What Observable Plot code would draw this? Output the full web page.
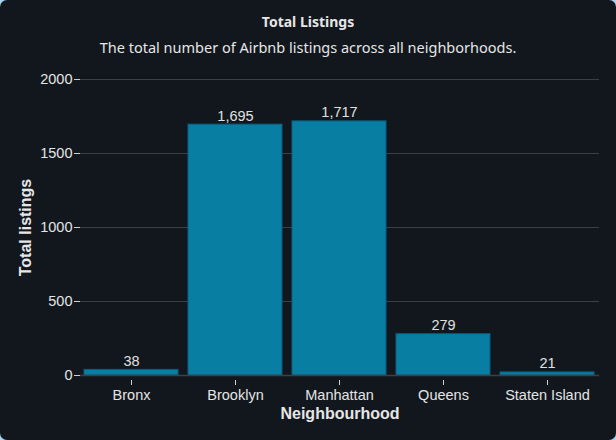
<!DOCTYPE html>
<html>
<head>
<meta charset="utf-8">
<script src="https://cdn.jsdelivr.net/npm/d3@7"></script>
<script src="https://cdn.jsdelivr.net/npm/@observablehq/plot@0.6"></script>
<style>
  html, body { margin: 0; padding: 0; background: #a8d4f2; }
  #card {
    position: relative; width: 616px; height: 440px; overflow: hidden;
    background: #12171e; border-radius: 7px;
  }
  #title {
    position: absolute; top: 12px; left: 0; width: 616px; text-align: center;
    font-family: "Noto Sans", sans-serif; font-weight: 700; font-size: 14px; color: #e6e6e6;
  }
  #subtitle {
    position: absolute; top: 37px; left: 0; width: 616px; text-align: center;
    font-family: "Noto Sans", sans-serif; font-size: 14.5px; color: #e6e6e6;
  }
  #chart { position: absolute; top: 60px; left: 0; }
  #chart svg, #chart svg text { font-family: "Liberation Sans", Arial, sans-serif !important; }
</style>
</head>
<body>
<div id="card">
  <div id="title">Total Listings</div>
  <div id="subtitle">The total number of Airbnb listings across all neighborhoods.</div>
  <div id="chart"></div>
</div>
<script>
const neighbourhoods = ["Bronx", "Brooklyn", "Manhattan", "Queens", "Staten Island"];
const listings = [38, 1695, 1717, 279, 21];
const yTicks = [0, 500, 1000, 1500, 2000];

const data = neighbourhoods.map((n, i) => ({neighbourhood: n, total: listings[i]}));
const FF = "Liberation Sans, Arial, sans-serif";

const plot = Plot.plot({
  width: 616,
  height: 380,
  marginTop: 19,
  marginBottom: 65,
  marginLeft: 80,
  marginRight: 17,
  style: {background: "transparent", color: "#e0e0e0", fontFamily: FF, fontSize: "14px"},
  x: {domain: neighbourhoods, paddingInner: 0.096, paddingOuter: 0.04},
  y: {domain: [0, 2000]},
  marks: [
    Plot.gridY(yTicks, {stroke: "#3b4046", strokeOpacity: 1, strokeWidth: 1}),
    Plot.axisY(yTicks, {tickSize: 6, tickPadding: 2, tickFormat: d => String(d), fontSize: 14.5, fill: "#e4e4e4", stroke: "#cfcfcf", label: null}),
    Plot.barY(data, {x: "neighbourhood", y: "total", fill: "#087ea2", stroke: "#0b5f7e", strokeWidth: 1}),
    Plot.ruleY([0], {stroke: "#3b4046", strokeWidth: 1.5}),
    Plot.text(data, {x: "neighbourhood", y: "total", text: d => d3.format(",")(d.total), lineAnchor: "bottom", dy: -4, fill: "#e0e0e0", fontSize: 14.5}),
    Plot.axisX({dy: 5, tickSize: 5, tickPadding: 4, fontSize: 14.5, fill: "#e4e4e4", stroke: "#cfcfcf", label: null}),
    Plot.text(["Neighbourhood"], {frameAnchor: "bottom", textAnchor: "middle", dy: 43, fontWeight: "bold", fontSize: 16, fill: "#e6e6e6"}),
    Plot.text(["Total listings"], {frameAnchor: "left", textAnchor: "middle", dx: -55, rotate: -90, fontWeight: "bold", fontSize: 16, fill: "#e6e6e6"})
  ]
});
document.getElementById("chart").appendChild(plot);
</script>
</body>
</html>
